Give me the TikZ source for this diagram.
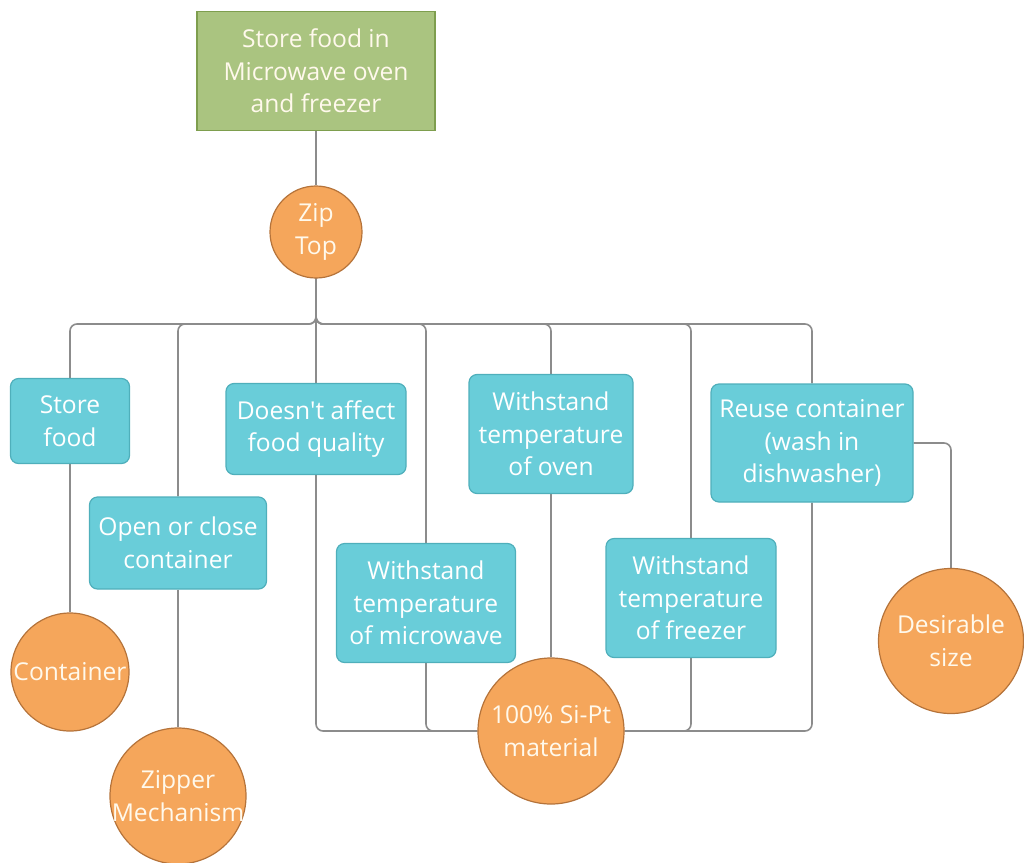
\documentclass[tikz,border=0pt]{standalone}
\usepackage{fontspec}
\setmainfont{Open Sans}
\usetikzlibrary{backgrounds}
\definecolor{goalfill}{HTML}{AAC480}
\definecolor{goalline}{HTML}{7E9E4E}
\definecolor{reqfill}{HTML}{69CDD9}
\definecolor{reqline}{HTML}{4FAFBB}
\definecolor{solfill}{HTML}{F5A65B}
\definecolor{solline}{HTML}{B5733A}
\definecolor{linkgray}{HTML}{8C8C8C}
\definecolor{labeltext}{HTML}{FFF9EC}
\tikzset{
  base/.style={align=center, text=labeltext, inner sep=0pt,
    font=\fontsize{24.6}{32.5}\selectfont},
  goalbox/.style={base, draw=goalline, fill=goalfill, line width=1.2pt,
    minimum width=238pt, minimum height=119pt},
  reqbox/.style={base, text=white, draw=reqline, fill=reqfill, line width=1.2pt,
    rounded corners=8pt},
  solcirc/.style={base, circle, draw=solline, fill=solfill, line width=1.2pt},
  link/.style={draw=linkgray, line width=1.6pt, rounded corners=7pt},
}
\begin{document}
\begin{tikzpicture}[x=1pt, y=-1pt]
\useasboundingbox (0,0) rectangle (1024,862);

% goal, top-level concept and requirement boxes
\node[goalbox] (goal) at (316,71) {Store food in\\Microwave oven\\and freezer};
\node[solcirc, minimum size=92pt] (zip) at (316,232) {Zip\\Top};

\node[reqbox, minimum width=119pt, minimum height=85pt] (store) at (70,421) {Store\\food};
\node[reqbox, minimum width=177pt, minimum height=92pt] (open) at (178,543) {Open or close\\container};
\node[reqbox, minimum width=180pt, minimum height=91pt] (quality) at (316,429) {Doesn\textquotesingle t affect\\food quality};
\node[reqbox, minimum width=179pt, minimum height=119pt] (micro) at (426,603) {Withstand\\temperature\\of microwave};
\node[reqbox, minimum width=164pt, minimum height=119pt] (oven) at (551,434) {Withstand\\temperature\\of oven};
\node[reqbox, minimum width=170pt, minimum height=119pt] (freezer) at (691,598) {Withstand\\temperature\\of freezer};
\node[reqbox, minimum width=202pt, minimum height=118pt] (reuse) at (812,443) {Reuse container\\(wash in\\dishwasher)};

% solution circles (the zipper label is wider than its circle)
\node[solcirc, minimum size=118pt] (cont) at (70,672) {\makebox[0pt]{Container}};
\node[solcirc, minimum size=136pt] (zipper) at (178,796) {Zipper\\\makebox[0pt]{Mechanism}};
\node[solcirc, minimum size=146pt] (sipt) at (551,731) {100\% Si-Pt\\material};
\node[solcirc, minimum size=145pt] (size) at (951,641) {Desirable\\size};

\coordinate (bus) at (316,324);

% connectors, drawn behind the shapes
\begin{scope}[on background layer]
  \draw[link] (goal.south) -- (zip.north);
  \draw[link] (zip.south) -- (quality.north);
  \foreach \n in {store, open, micro, oven, freezer, reuse}
    \draw[link] (zip.south) -- (bus) -| (\n.north);
  \draw[link] (store.south) -- (cont.north);
  \draw[link] (open.south) -- (zipper.north);
  \draw[link] (quality.south) |- (sipt.west);
  \draw[link] (micro.south) |- (sipt.west);
  \draw[link] (oven.south) -- (sipt.north);
  \draw[link] (freezer.south) |- (sipt.east);
  \draw[link] (reuse.south) |- (sipt.east);
  \draw[link] (reuse.east) -| (size.north);
\end{scope}
\end{tikzpicture}
\end{document}
